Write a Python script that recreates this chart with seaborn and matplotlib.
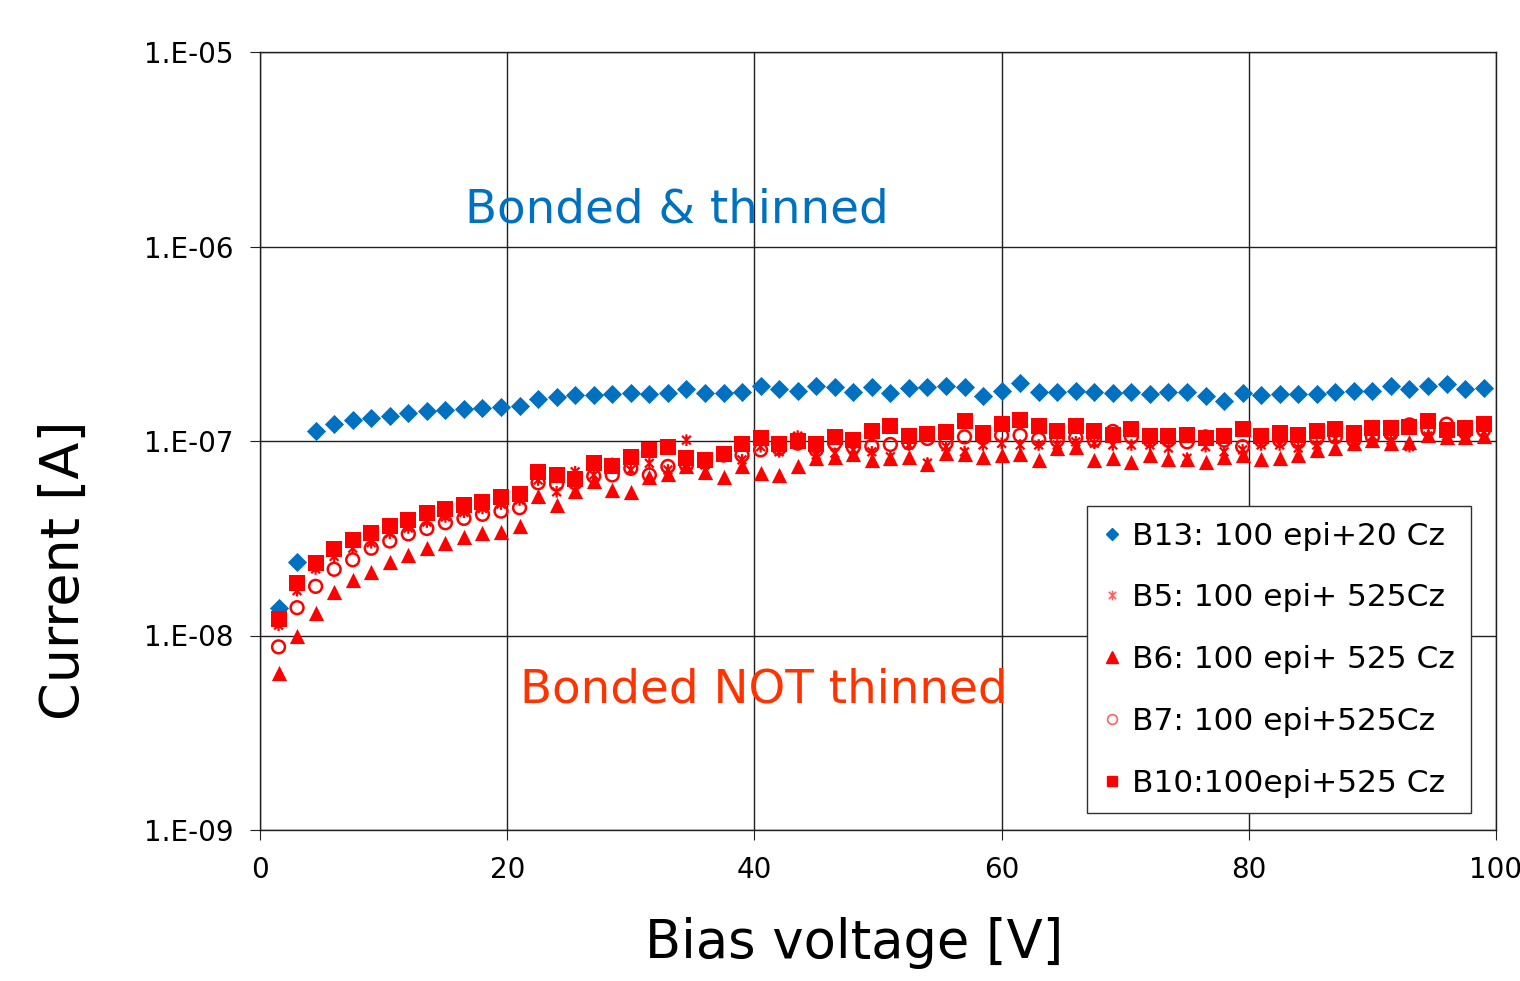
import matplotlib
matplotlib.use("Agg")
import matplotlib.pyplot as plt
import seaborn as sns
import pandas as pd
from matplotlib.path import Path
from matplotlib.lines import Line2D
from matplotlib.ticker import FixedLocator, FixedFormatter, NullLocator

# ---------------- data (current in units of 1e-7 A) ----------------
voltage = [1.5, 3, 4.5, 6, 7.5, 9, 10.5, 12, 13.5, 15, 16.5, 18, 19.5, 21, 22.5, 24,
           25.5, 27, 28.5, 30, 31.5, 33, 34.5, 36, 37.5, 39, 40.5, 42, 43.5, 45, 46.5,
           48, 49.5, 51, 52.5, 54, 55.5, 57, 58.5, 60, 61.5, 63, 64.5, 66, 67.5, 69,
           70.5, 72, 73.5, 75, 76.5, 78, 79.5, 81, 82.5, 84, 85.5, 87, 88.5, 90, 91.5,
           93, 94.5, 96, 97.5, 99]

b13 = [0.139, 0.240, 1.12, 1.22, 1.28, 1.32, 1.35, 1.39, 1.42, 1.44, 1.46, 1.47, 1.49, 1.51,
       1.64, 1.69, 1.72, 1.72, 1.74, 1.76, 1.74, 1.76,
       1.85, 1.76, 1.76, 1.79, 1.92, 1.85, 1.81, 1.92, 1.90, 1.79, 1.90, 1.77, 1.87, 1.90,
       1.92, 1.89, 1.71, 1.81, 1.98, 1.79, 1.79, 1.81,
       1.79, 1.76, 1.78, 1.74, 1.78, 1.78, 1.71, 1.61, 1.76, 1.72, 1.74, 1.74, 1.75, 1.79,
       1.81, 1.81, 1.92, 1.85, 1.92, 1.96, 1.85, 1.87]

b5 = [0.113, 0.17, 0.22, 0.255, 0.281, 0.30, 0.335, 0.357, 0.383, 0.407, 0.43, 0.45, 0.474,
      0.497, 0.63, 0.548, 0.695, 0.669, 0.768, 0.71, 0.768, 0.71,
      1.01, 0.753, 0.847, 0.80, 0.935, 0.88, 1.06, 0.847, 0.865, 0.90, 0.88, 0.83, 0.954,
      0.77, 0.935, 0.88, 0.954, 0.973, 0.954, 0.954, 0.954, 0.99,
      0.973, 0.954, 0.954, 0.954, 0.92, 0.815, 0.935, 0.88, 0.90, 0.954, 0.954, 0.92, 0.954,
      1.03, 1.03, 1.06, 1.01, 0.935, 1.06, 1.06, 1.10, 1.11]

b6 = [0.064, 0.0995, 0.13, 0.167, 0.193, 0.213, 0.24, 0.259, 0.283, 0.298, 0.322, 0.335,
      0.342, 0.366, 0.52, 0.47, 0.553, 0.62, 0.56, 0.547, 0.655, 0.68,
      0.74, 0.695, 0.655, 0.74, 0.687, 0.669, 0.746, 0.815, 0.83, 0.854, 0.80, 0.815, 0.83,
      0.76, 0.865, 0.854, 0.83, 0.847, 0.854, 0.80, 0.925, 0.935,
      0.80, 0.815, 0.78, 0.847, 0.805, 0.805, 0.78, 0.83, 0.847, 0.805, 0.815, 0.847, 0.90,
      0.917, 0.973, 1.01, 0.973, 0.99, 1.07, 1.05, 1.05, 1.06]

b7 = [0.0874, 0.139, 0.179, 0.219, 0.245, 0.281, 0.306, 0.333, 0.355, 0.38, 0.40, 0.42,
      0.436, 0.454, 0.61, 0.60, 0.61, 0.66, 0.669, 0.724, 0.669, 0.74,
      0.753, 0.78, 0.847, 0.847, 0.90, 0.917, 0.975, 0.90, 0.973, 0.93, 0.94, 0.96, 0.98,
      1.03, 0.975, 1.05, 1.04, 1.07, 1.07, 1.02, 1.01, 1.04,
      1.01, 1.12, 1.05, 1.01, 1.01, 0.99, 1.05, 1.01, 0.935, 1.01, 1.01, 0.99, 1.03, 1.05,
      1.01, 1.05, 1.09, 1.21, 1.14, 1.22, 1.11, 1.14]

b10 = [0.121, 0.187, 0.236, 0.277, 0.310, 0.335, 0.367, 0.393, 0.425, 0.447, 0.471, 0.485,
       0.518, 0.535, 0.693, 0.669, 0.637, 0.768, 0.744, 0.832, 0.904, 0.93,
       0.815, 0.80, 0.854, 0.96, 1.04, 0.965, 1.00, 0.965, 1.05, 1.01, 1.12, 1.19, 1.06, 1.09,
       1.11, 1.27, 1.10, 1.22, 1.28, 1.19, 1.12, 1.19,
       1.12, 1.07, 1.15, 1.06, 1.06, 1.07, 1.04, 1.06, 1.15, 1.06, 1.10, 1.07, 1.12, 1.15,
       1.10, 1.16, 1.16, 1.18, 1.27, 1.14, 1.17, 1.23]

series_names = ["B13: 100 epi+20 Cz", "B5: 100 epi+ 525Cz", "B6: 100 epi+ 525 Cz",
                "B7: 100 epi+525Cz", "B10:100epi+525 Cz"]
series_values = [b13, b5, b6, b7, b10]

y_ticks = [1e-9, 1e-8, 1e-7, 1e-6, 1e-5]
y_tick_labels = ["1.E-09", "1.E-08", "1.E-07", "1.E-06", "1.E-05"]
x_ticks = [0, 20, 40, 60, 80, 100]
x_tick_labels = ["0", "20", "40", "60", "80", "100"]

BLUE = "#0070C0"
RED = "#FF0000"

frames = []
for name, vals in zip(series_names, series_values):
    frames.append(pd.DataFrame({"voltage": voltage,
                                "current": [v * 1e-7 for v in vals],
                                "series": name}))
df = pd.concat(frames, ignore_index=True)

# asterisk-like marker (vertical bar + X)
star = Path([(0, -1), (0, 1), (-0.75, -0.75), (0.75, 0.75), (-0.75, 0.75), (0.75, -0.75)],
            [Path.MOVETO, Path.LINETO, Path.MOVETO, Path.LINETO, Path.MOVETO, Path.LINETO])

sns.set_style("ticks")
plt.rcParams["font.family"] = ["DejaVu Sans"]
plt.rcParams["text.color"] = "black"
plt.rcParams["axes.labelcolor"] = "black"
plt.rcParams["xtick.color"] = "black"
plt.rcParams["ytick.color"] = "black"

fig = plt.figure(figsize=(15.2, 9.81), dpi=100)
ax = fig.add_axes([260 / 1520, 1 - 830 / 981, 1236 / 1520, 778 / 981])

styles = {
    series_names[0]: dict(marker="D", s=95, color=BLUE, edgecolor=BLUE, linewidth=0),
    series_names[1]: dict(marker=star, s=70, facecolor="none", edgecolor=RED, linewidth=1.6),
    series_names[2]: dict(marker="^", s=120, color=RED, edgecolor=RED, linewidth=0),
    series_names[3]: dict(marker="o", s=85, facecolor="none", edgecolor=RED, linewidth=1.8),
    series_names[4]: dict(marker="s", s=120, color=RED, edgecolor=RED, linewidth=0),
}
for name in series_names:
    sub = df[df["series"] == name]
    sns.scatterplot(data=sub, x="voltage", y="current", ax=ax, legend=False,
                    zorder=3, **styles[name])

ax.set_yscale("log")
ax.set_xlim(0, 100)
ax.set_ylim(1e-9, 1e-5)
ax.yaxis.set_major_locator(FixedLocator(y_ticks))
ax.yaxis.set_major_formatter(FixedFormatter(y_tick_labels))
ax.yaxis.set_minor_locator(NullLocator())
ax.xaxis.set_major_locator(FixedLocator(x_ticks))
ax.xaxis.set_major_formatter(FixedFormatter(x_tick_labels))

ax.grid(True, which="major", color="#202020", linewidth=1.0)
for sp in ax.spines.values():
    sp.set_visible(True)
    sp.set_color("#202020")
    sp.set_linewidth(1.0)
ax.tick_params(axis="both", which="major", direction="out", length=7, width=0.8,
               color="#202020", labelcolor="black", labelsize=20, pad=12)

ax.set_xlabel("Bias voltage [V]", fontsize=38)
ax.xaxis.set_label_coords(0.4806, -0.112)
ax.set_ylabel("Current [A]", fontsize=39)
ax.yaxis.set_label_coords(-0.1375, 0.334)

ax.text(16.6, 1.54e-6, "Bonded & thinned", color=BLUE, fontsize=33.7,
        ha="left", va="center", zorder=1)
ax.text(21.0, 5.25e-9, "Bonded NOT thinned", color="#FF3300", fontsize=33.7,
        ha="left", va="center", zorder=1)

handles = [
    Line2D([], [], linestyle="none", marker="D", markersize=6, color=BLUE),
    Line2D([], [], linestyle="none", marker=star, markersize=7, markerfacecolor="none",
           markeredgecolor="#FF6060", markeredgewidth=1.2),
    Line2D([], [], linestyle="none", marker="^", markersize=8, color=RED),
    Line2D([], [], linestyle="none", marker="o", markersize=7, markerfacecolor="none",
           markeredgecolor="#FF6060", markeredgewidth=1.2),
    Line2D([], [], linestyle="none", marker="s", markersize=7, color=RED),
]
leg = ax.legend(handles, series_names, loc="upper left", bbox_to_anchor=(0.669, 0.4165),
                fontsize=22.5, frameon=True, fancybox=False,
                edgecolor="#303030", framealpha=1, labelspacing=1.05,
                handlelength=0.6, handletextpad=0.35, borderpad=0.5, borderaxespad=0)
leg.get_frame().set_linewidth(1.0)
leg.set_zorder(5)

fig.savefig("out.png", dpi=100)
